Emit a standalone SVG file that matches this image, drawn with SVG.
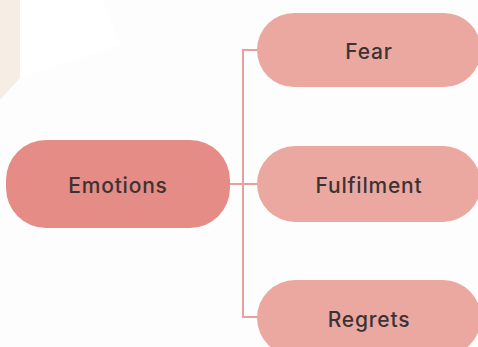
<svg xmlns="http://www.w3.org/2000/svg" width="478" height="347" viewBox="0 0 478 347">
  <style>
    .lbl { font-family: Inter, "Open Sans", "Liberation Sans", sans-serif; font-size: 21px; font-weight: 500; letter-spacing: 0.8px; fill: #3b3333; text-anchor: middle; dominant-baseline: central; }
    .root { fill: #e48c85; }
    .leaf { fill: #eba8a0; }
    .wire { fill: none; stroke: #e8a09a; stroke-width: 2; }
  </style>
  <!-- backdrop -->
  <rect x="0" y="0" width="478" height="347" fill="#fdfdfd"/>
  <polygon points="20,0 102,0 120,45 20,78" fill="#ffffff"/>
  <polygon points="0,0 20,0 20,78 0,100" fill="#f6eee4"/>

  <g id="connectors">
    <path class="wire" d="M230,184 H258"/>
    <path class="wire" d="M258,50 H243 V317 H258"/>
  </g>

  <g id="emotions">
    <rect class="root" x="6" y="140" width="224" height="88" rx="40"/>
    <text class="lbl" x="118" y="185">Emotions</text>
  </g>
  <g id="fear">
    <rect class="leaf" x="257" y="13" width="224" height="74" rx="37"/>
    <text class="lbl" x="369" y="51">Fear</text>
  </g>
  <g id="fulfilment">
    <rect class="leaf" x="257" y="146" width="224" height="76" rx="38"/>
    <text class="lbl" x="369" y="185">Fulfilment</text>
  </g>
  <g id="regrets">
    <rect class="leaf" x="257" y="280" width="224" height="76" rx="38"/>
    <text class="lbl" x="369" y="319">Regrets</text>
  </g>
</svg>
